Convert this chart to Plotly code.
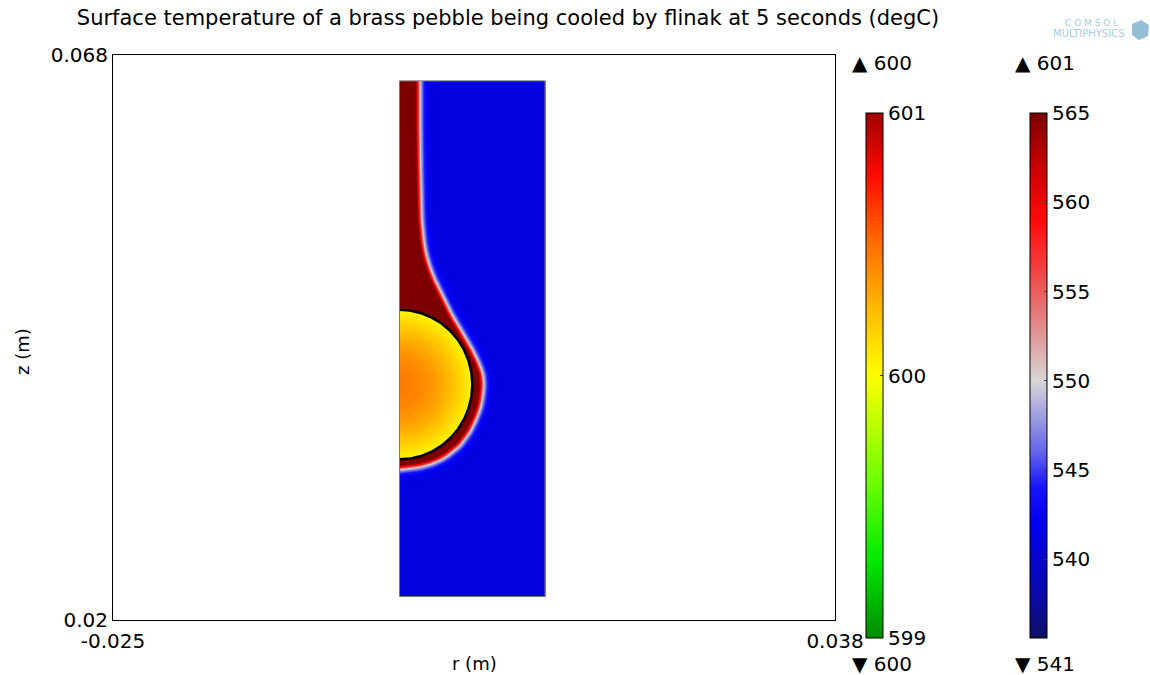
import numpy as np
import plotly.graph_objects as go

# ---------------- data ----------------
TITLE = "Surface temperature of a brass pebble being cooled by flinak at 5 seconds (degC)"
X_RANGE = [-0.025, 0.038]
Y_RANGE = [0.02, 0.068]
X_TICKS = [-0.025, 0.038]
Y_TICKS = [0.02, 0.068]

DOMAIN_R = [0.0, 0.0127]          # fluid column (m)
DOMAIN_Z = [0.0220, 0.0658]
SPHERE_ZC = 0.0400                # pebble centre height (m)
SPHERE_RADIUS = 0.00635           # pebble radius (m)

# outer edge of the hot (dark red) boundary layer / plume
EDGE_Z = [0.0328, 0.0330, 0.0333, 0.0338, 0.0348, 0.0360, 0.0370, 0.0380, 0.0390,
          0.0400, 0.0410, 0.0420, 0.0430, 0.0440, 0.0450, 0.0460, 0.0470, 0.0480,
          0.0490, 0.0500, 0.0510, 0.0520, 0.0540, 0.0580, 0.0620, 0.0660]
EDGE_R = [0.0000, 0.00170, 0.0028, 0.0039, 0.0052, 0.0061, 0.0066, 0.0070, 0.0072,
          0.0073, 0.0072, 0.0068, 0.0063, 0.0057, 0.0051, 0.0045, 0.0040, 0.0035,
          0.0030, 0.0026, 0.0023, 0.0021, 0.0019, 0.0018, 0.00175, 0.00175]

FLUID_T_BULK = 541.0
FLUID_T_EDGE = 550.0
FLUID_T_HOT = 570.0
LAYER_WIDTH_IN = 0.00042
LAYER_WIDTH_OUT = 0.00045

SPHERE_T_SURF = 600.02
SPHERE_T_CORE = 600.45

CB1_RANGE = [599.0, 601.0]
CB1_TICKS = [599, 600, 601]
CB2_RANGE = [535.6, 565.0]
CB2_TICKS = [540, 545, 550, 555, 560, 565]
CB1_MAX_LABEL, CB1_MIN_LABEL = "▲ 600", "▼ 600"
CB2_MAX_LABEL, CB2_MIN_LABEL = "▲ 601", "▼ 541"

# ---------------- field ----------------
NR, NZ = 146, 516
r_edges = np.linspace(DOMAIN_R[0], DOMAIN_R[1], NR + 1)
z_edges = np.linspace(DOMAIN_Z[0], DOMAIN_Z[1], NZ + 1)
rc = 0.5 * (r_edges[1:] + r_edges[:-1])
zc = 0.5 * (z_edges[1:] + z_edges[:-1])
RR, ZZ = np.meshgrid(rc, zc)

# sample the edge polyline uniformly along its arc length, then soften corners
er, ez = np.array(EDGE_R), np.array(EDGE_Z)
seg = np.hypot(np.diff(er), np.diff(ez))
arc = np.concatenate([[0.0], np.cumsum(seg)])
t = np.linspace(0.0, arc[-1], 2000)
rs = np.interp(t, arc, er)
zs = np.interp(t, arc, ez)
K = 41
kern = np.ones(K) / K
rs = np.convolve(np.pad(rs, K // 2, mode="edge"), kern, mode="valid")
zs = np.convolve(np.pad(zs, K // 2, mode="edge"), kern, mode="valid")
rs[0] = 0.0

dist = np.empty_like(RR)
for i0 in range(0, NZ, 30):
    i1 = min(NZ, i0 + 30)
    dz = zc[i0:i1, None, None] - zs[None, None, :]
    dr = rc[None, :, None] - rs[None, None, :]
    dist[i0:i1] = np.sqrt(dr ** 2 + dz ** 2).min(axis=-1)
order = np.argsort(zs)
r_lim = np.interp(ZZ, zs[order], rs[order])
inside = (ZZ >= zs.min()) & (RR < r_lim)
s = np.where(inside, dist, -dist)
T_fluid = np.where(s >= 0,
                   FLUID_T_EDGE + (FLUID_T_HOT - FLUID_T_EDGE) * np.tanh(s / LAYER_WIDTH_IN),
                   FLUID_T_EDGE + (FLUID_T_EDGE - FLUID_T_BULK) * np.tanh(s / LAYER_WIDTH_OUT))

d2 = (RR ** 2 + (ZZ - SPHERE_ZC) ** 2) / SPHERE_RADIUS ** 2
in_sphere = d2 < 1.0
T_fluid = np.where(in_sphere, np.nan, T_fluid)
T_sphere = np.where(in_sphere, SPHERE_T_SURF + (SPHERE_T_CORE - SPHERE_T_SURF) * (1 - d2), np.nan)

# ---------------- layout helpers ----------------
W, H = 1150, 675
L, R_, T_, B = 113, 315, 55, 55
PW, PH = W - L - R_, H - T_ - B


def px(x):
    return (x - L) / PW


def py(y):
    return (H - B - y) / PH


FONT = "DejaVu Sans"

cs1 = [[0.0, "rgb(0,140,0)"], [0.15, "rgb(0,235,0)"], [0.3, "rgb(110,255,0)"],
       [0.5, "rgb(255,255,0)"], [0.62, "rgb(255,190,0)"], [0.75, "rgb(255,110,0)"],
       [0.88, "rgb(255,10,0)"], [1.0, "rgb(160,0,0)"]]
cs2 = [[0.0, "rgb(15,15,100)"], [0.082, "rgb(10,10,170)"], [0.218, "rgb(0,0,240)"],
       [0.286, "rgb(20,20,250)"], [0.354, "rgb(100,100,235)"], [0.49, "rgb(215,215,215)"],
       [0.592, "rgb(225,140,140)"], [0.694, "rgb(240,70,70)"], [0.796, "rgb(255,10,10)"],
       [0.898, "rgb(200,0,0)"], [1.0, "rgb(125,0,0)"]]

fig = go.Figure()
fig.add_trace(go.Heatmap(x=r_edges, y=z_edges, z=T_fluid, coloraxis="coloraxis2",
                         hoverinfo="skip"))
fig.add_trace(go.Heatmap(x=r_edges, y=z_edges, z=T_sphere, coloraxis="coloraxis",
                         hoverinfo="skip"))

theta = np.linspace(-np.pi / 2, np.pi / 2, 200)
fig.add_trace(go.Scatter(x=SPHERE_RADIUS * np.cos(theta), y=SPHERE_ZC + SPHERE_RADIUS * np.sin(theta),
                         mode="lines", line=dict(color="black", width=2.5),
                         hoverinfo="skip", showlegend=False))

fig.add_shape(type="rect", xref="x", yref="y", x0=DOMAIN_R[0], x1=DOMAIN_R[1],
              y0=DOMAIN_Z[0], y1=DOMAIN_Z[1], line=dict(color="rgb(120,120,120)", width=1))

cb_common = dict(thickness=17, thicknessmode="pixels", len=525, lenmode="pixels",
                 y=py(375.5), yanchor="middle", xanchor="left", xpad=0, ypad=0,
                 outlinecolor="black", outlinewidth=1, ticks="inside", ticklen=3,
                 tickcolor="rgb(60,60,60)",
                 tickfont=dict(family=FONT, size=20, color="black"))

fig.update_layout(
    width=W, height=H, autosize=False,
    margin=dict(l=L, r=R_, t=T_, b=B),
    paper_bgcolor="white", plot_bgcolor="white",
    showlegend=False,
    title=dict(text=TITLE, x=508 / W, xref="container", xanchor="center",
               y=1 - 18 / H, yanchor="middle", font=dict(family=FONT, size=21, color="black")),
    xaxis=dict(range=X_RANGE, tickvals=X_TICKS, ticktext=[str(v) for v in X_TICKS],
               showgrid=False, zeroline=False, showline=True, linecolor="black", mirror=True,
               ticks="", ticklabelstandoff=3, tickfont=dict(family=FONT, size=20, color="black")),
    yaxis=dict(range=Y_RANGE, tickvals=Y_TICKS, ticktext=[str(v) for v in Y_TICKS],
               showgrid=False, zeroline=False, showline=True, linecolor="black", mirror=True,
               ticks="", tickfont=dict(family=FONT, size=20, color="black")),
    coloraxis=dict(cmin=CB1_RANGE[0], cmax=CB1_RANGE[1], colorscale=cs1,
                   colorbar=dict(x=px(866), tickvals=CB1_TICKS, **cb_common)),
    coloraxis2=dict(cmin=CB2_RANGE[0], cmax=CB2_RANGE[1], colorscale=cs2,
                    colorbar=dict(x=px(1030), tickvals=CB2_TICKS, **cb_common)),
)

ann = [
    dict(text=CB1_MAX_LABEL, x=px(850), y=py(63)),
    dict(text=CB1_MIN_LABEL, x=px(850), y=py(664)),
    dict(text=CB2_MAX_LABEL, x=px(1013), y=py(63)),
    dict(text=CB2_MIN_LABEL, x=px(1013), y=py(664)),
]
for a in ann:
    fig.add_annotation(xref="paper", yref="paper", xanchor="left", yanchor="middle",
                       showarrow=False, font=dict(family=FONT, size=20, color="black"), **a)

fig.add_annotation(xref="paper", yref="paper", x=px(474), y=py(663), text="r (m)",
                   showarrow=False, xanchor="center", yanchor="middle",
                   font=dict(family=FONT, size=18, color="black"))
fig.add_annotation(xref="paper", yref="paper", x=px(22), y=py(352), text="z (m)",
                   showarrow=False, xanchor="center", yanchor="middle", textangle=-90,
                   font=dict(family=FONT, size=18, color="black"))

# faded COMSOL logo text
fig.add_annotation(xref="paper", yref="paper", x=px(1120), y=py(23), text="C O M S O L",
                   showarrow=False, xanchor="right", yanchor="middle",
                   font=dict(family=FONT, size=9, color="rgb(165,205,220)"))
fig.add_annotation(xref="paper", yref="paper", x=px(1126), y=py(34), text="MULTIPHYSICS",
                   showarrow=False, xanchor="right", yanchor="middle",
                   font=dict(family=FONT, size=10, color="rgb(165,205,220)"))
fig.add_shape(type="path", xref="paper", yref="paper",
              path=f"M {px(1132)} {py(24)} L {px(1141)} {py(20)} L {px(1149)} {py(25)} "
                   f"L {px(1148)} {py(36)} L {px(1139)} {py(40)} L {px(1132)} {py(35)} Z",
              fillcolor="rgb(150,190,215)", line=dict(width=0))

fig.write_html("out.html")
